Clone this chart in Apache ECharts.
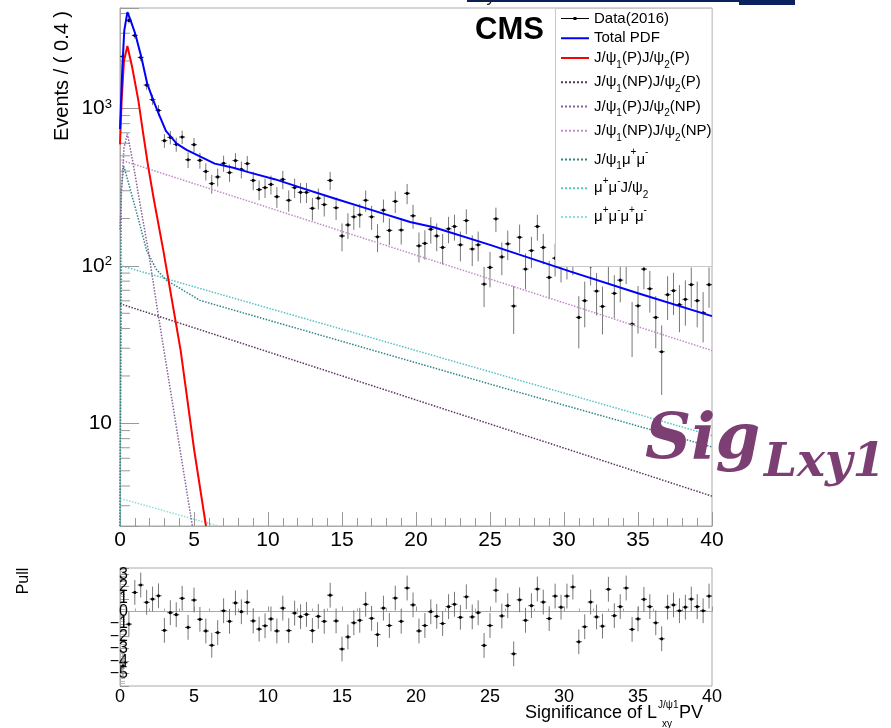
<!DOCTYPE html>
<html>
<head>
<meta charset="utf-8">
<title>Sig Lxy1 fit</title>
<script src="https://cdn.jsdelivr.net/npm/echarts@6/dist/echarts.min.js"></script>
<style>
  html, body { margin: 0; padding: 0; background: #fff; }
  #main { width: 891px; height: 728px; }
</style>
</head>
<body>
<div id="main"></div>
<script>
// histogram binning: Events / ( 0.4 )
var binWidth = 0.4;

// data counts per bin (0.2 ... 39.8)
var events = [
  2138, 3620, 2906, 2108, 1407, 1136, 971, 624, 655, 591,
  658, 472, 588, 468, 398, 333, 367, 448, 391, 466,
  410, 446, 349, 305, 314, 329, 275, 354, 261, 314,
  293, 293, 232, 269, 245, 349, 234, 155, 182, 205,
  211, 261, 205, 153, 226, 168, 257, 169, 289, 208,
  134, 139, 171, 155, 131, 172, 178, 136, 194, 128,
  136, 76.6, 97.8, 199, 114, 138, 55.6, 152, 95.4, 125,
  178, 131, 84.5, 112, 104, 108, 114, 47.1, 60.1, 100,
  69.2, 55.3, 103, 66.9, 81.2, 102, 42.7, 55.8, 95.4, 71.6,
  47.1, 28.5, 65.6, 69.6, 56.7, 61.3, 76.0, 60.1, 50.4, 76.0
];
// weighted events: error bars are wider than sqrt(N)
var errScale = 2.5;

// pull per bin
var pulls = [
  -4.38, -1.02, 1.53, 2.13, 0.74, 1.0, 1.26, -1.52, -0.10, -0.26,
  1.06, -1.28, 0.92, -0.63, -1.57, -2.72, -1.70, 0.06, -0.79, 0.69,
  -0.02, 0.74, -0.76, -1.42, -1.15, -0.60, -1.57, 0.27, -1.54, -0.13,
  -0.42, -0.24, -1.54, -0.39, -0.79, 1.31, -0.76, -3.02, -2.05, -0.91,
  -0.71, 0.58, -0.55, -1.86, 0.27, -1.13, 1.08, -0.79, 1.89, 0.53,
  -1.57, -1.13, -0.02, -0.39, -0.97, 0.39, 0.58, -0.47, 1.18, -0.44,
  -0.10, -2.73, -1.13, 1.71, -0.36, 0.47, -3.41, 0.94, -0.71, 0.47,
  1.81, 0.76, -0.57, 1.24, 0.35, 1.24, 1.97, -2.44, -1.23, 0.76,
  -0.44, -1.18, 1.79, -0.34, 0.39, 1.89, -1.44, -0.60, 0.98, 0.39,
  -0.91, -2.20, 0.35, 0.53, 0.06, 0.35, 1.0, 0.39, 0.06, 1.24
];

// fit components, [significance, events]
var totalPdf = [[0, 740], [0.16, 1830], [0.29, 3130], [0.5, 4080], [0.68, 3700], [1.03, 2980],
  [1.44, 2120], [1.84, 1435], [2.25, 1124], [2.66, 903], [3.1, 720], [3.83, 597], [4.5, 545],
  [5.5, 490], [6.4, 446], [7.66, 420], [8.67, 394], [10.5, 354], [12.2, 314], [14.5, 268],
  [16.7, 231], [19.6, 190], [21.2, 176], [25, 136], [30.4, 92.3], [35, 67], [40, 48]];
var ppComp = [[0, 591], [0.11, 1124], [0.27, 2017], [0.5, 2490], [0.82, 1832], [1.24, 1124],
  [1.57, 690], [1.91, 424], [2.3, 260], [2.93, 125], [4.1, 29], [5.02, 6.7], [5.81, 2.23]];
var npPComp = [[0, 57.5], [40, 3.45]];
var pNpComp = [[0, 170], [0.11, 310], [0.27, 560], [0.5, 690], [0.9, 440], [1.3, 265],
  [1.91, 125], [2.59, 48.5], [4.89, 2.23]];
var npNpComp = [[0, 472], [40, 29]];
var psiMuMuComp = [[0, 2.23], [0.08, 300], [0.25, 430], [0.34, 404], [1.24, 199], [1.8, 125],
  [2.45, 95], [3.15, 81], [5.4, 60.4], [25.7, 17.0], [40, 7.08]];
var muMuPsiComp = [[0, 2.23], [0.1, 100], [40, 8.36]];
var fourMuComp = [[0, 2.23], [0.05, 3.33], [6.64, 2.23]];

// tick values
var yMinorTicks = [3, 4, 5, 6, 7, 8, 9, 20, 30, 40, 50, 60, 70, 80, 90,
  200, 300, 400, 500, 600, 700, 800, 900, 2000, 3000, 4000];

var binCenters = events.map(function (_, i) { return +(binWidth * (i + 0.5)).toFixed(2); });

var FONT = "'Liberation Sans', Arial, sans-serif";

var legendLabels = {
  'Data(2016)': '{n|Data(2016)}',
  'Total PDF': '{n|Total PDF}',
  'J/ψ1(P)J/ψ2(P)': '{n|J/ψ}{sub|1}{n|(P)J/ψ}{sub|2}{n|(P)}',
  'J/ψ1(NP)J/ψ2(P)': '{n|J/ψ}{sub|1}{n|(NP)J/ψ}{sub|2}{n|(P)}',
  'J/ψ1(P)J/ψ2(NP)': '{n|J/ψ}{sub|1}{n|(P)J/ψ}{sub|2}{n|(NP)}',
  'J/ψ1(NP)J/ψ2(NP)': '{n|J/ψ}{sub|1}{n|(NP)J/ψ}{sub|2}{n|(NP)}',
  'J/ψ1μ+μ-': '{n|J/ψ}{sub|1}{n|μ}{sup|+}{n|μ}{sup|-}',
  'μ+μ-J/ψ2': '{n|μ}{sup|+}{n|μ}{sup|-}{n|J/ψ}{sub|2}',
  'μ+μ-μ+μ-': '{n|μ}{sup|+}{n|μ}{sup|-}{n|μ}{sup|+}{n|μ}{sup|-}'
};

function renderPoints(params, api) {
  var x = api.value(0), y = api.value(1), e = api.value(2);
  var c = api.coord([x, y]);
  var lo = api.coord([x, y - e]);
  var hi = api.coord([x, y + e]);
  var l = api.coord([x - binWidth / 2, y]);
  var r = api.coord([x + binWidth / 2, y]);
  return {
    type: 'group',
    children: [
      { type: 'line', shape: { x1: c[0], y1: lo[1], x2: c[0], y2: hi[1] }, style: { stroke: '#777', lineWidth: 1 } },
      { type: 'line', shape: { x1: l[0], y1: c[1], x2: r[0], y2: c[1] }, style: { stroke: '#333', lineWidth: 1 } },
      { type: 'circle', shape: { cx: c[0], cy: c[1], r: 1.6 }, style: { fill: '#000' } }
    ]
  };
}

function renderMinorTick(params, api) {
  var p = api.coord([0, api.value(1)]);
  return { type: 'line', shape: { x1: p[0], y1: p[1], x2: p[0] + 10, y2: p[1] }, style: { stroke: '#999', lineWidth: 1 } };
}

function curve(name, data, color, width, dotted) {
  return {
    name: name, type: 'line', xAxisIndex: 0, yAxisIndex: 0, data: data,
    symbol: 'none', showSymbol: false, animation: false, clip: true,
    lineStyle: { color: color, width: width, type: dotted ? 'dotted' : 'solid' },
    itemStyle: { color: color }
  };
}

var myChart = echarts.init(document.getElementById('main'));
var option = {
  animation: false,
  backgroundColor: '#fff',
  grid: [
    { left: 120, top: 8, width: 592, height: 518, show: true, borderColor: '#aaa', borderWidth: 1 },
    { left: 120, top: 568, width: 592, height: 118, show: true, borderColor: '#aaa', borderWidth: 1 }
  ],
  xAxis: [
    {
      gridIndex: 0, type: 'value', min: 0, max: 40, interval: 5,
      axisLine: { lineStyle: { color: '#aaa' } },
      axisTick: { inside: true, length: 14, lineStyle: { color: '#999' } },
      minorTick: { show: true, splitNumber: 5, length: 8, lineStyle: { color: '#999' } },
      splitLine: { show: false },
      axisLabel: { fontSize: 21, color: '#000', margin: 4, fontFamily: FONT }
    },
    {
      gridIndex: 1, type: 'value', min: 0, max: 40, interval: 5,
      axisLine: { lineStyle: { color: '#aaa' } },
      axisTick: { inside: true, length: 5, lineStyle: { color: '#999' } },
      minorTick: { show: true, splitNumber: 5, length: 3, lineStyle: { color: '#aaa' } },
      splitLine: { show: false },
      axisLabel: { fontSize: 18, color: '#000', margin: 2, fontFamily: FONT }
    }
  ],
  yAxis: [
    {
      gridIndex: 0, type: 'log', logBase: 10, min: 2.23, max: 4340,
      axisLine: { show: true, lineStyle: { color: '#aaa' } },
      axisTick: { inside: true, length: 19, lineStyle: { color: '#999' } },
      splitLine: { show: false },
      axisLabel: {
        fontSize: 21, color: '#000', margin: 8, fontFamily: FONT,
        formatter: function (v) {
          var k = Math.log(v) / Math.LN10;
          var r = Math.round(k);
          if (Math.abs(k - r) > 1e-6) return '';
          if (r === 1) return '10';
          return '10{sup|' + r + '}';
        },
        rich: { sup: { fontSize: 13, lineHeight: 13, verticalAlign: 'top', fontFamily: FONT, color: '#000' } }
      }
    },
    {
      gridIndex: 1, type: 'value', min: -6, max: 3.5, interval: 1,
      axisLine: { show: true, lineStyle: { color: '#aaa' } },
      axisTick: { inside: true, length: 9, lineStyle: { color: '#999' } },
      minorTick: { show: true, splitNumber: 5, length: 5, lineStyle: { color: '#bbb' } },
      splitLine: { show: false },
      axisLabel: {
        fontSize: 16, color: '#000', margin: -8, fontFamily: FONT,
        formatter: function (v) {
          var r = Math.round(v);
          if (Math.abs(v - r) > 1e-6 || r < -5 || r > 3) return '';
          return r < 0 ? '\u2212' + (-r) : String(r);
        }
      }
    }
  ],
  legend: {
    orient: 'vertical', left: 560, top: 11, padding: 0,
    itemWidth: 28, itemHeight: 14, itemGap: 4.75,
    selectedMode: false, z: 10,
    itemStyle: { opacity: 0 },
    textStyle: {
      fontFamily: FONT, fontSize: 15, color: '#000',
      rich: {
        n: { fontSize: 15, lineHeight: 24 },
        sub: { fontSize: 10, lineHeight: 10, verticalAlign: 'bottom' },
        sup: { fontSize: 10, lineHeight: 14, verticalAlign: 'top' }
      }
    },
    formatter: function (name) { return legendLabels[name] || name; },
    data: [
      { name: 'Data(2016)', icon: 'path://M0,0h0.01v0.01h-0.01z M27.99,13.99h0.01v0.01h-0.01z M0,6.5h28v1h-28z M12.5,5.5h3v3h-3z', itemStyle: { opacity: 1, color: '#000' } },
      'Total PDF', 'J/ψ1(P)J/ψ2(P)', 'J/ψ1(NP)J/ψ2(P)', 'J/ψ1(P)J/ψ2(NP)',
      'J/ψ1(NP)J/ψ2(NP)', 'J/ψ1μ+μ-', 'μ+μ-J/ψ2', 'μ+μ-μ+μ-'
    ]
  },
  series: [
    {
      name: 'Data(2016)', type: 'custom', xAxisIndex: 0, yAxisIndex: 0,
      renderItem: renderPoints, itemStyle: { color: '#000' },
      encode: { x: 0, y: 1 },
      data: events.map(function (v, i) { return [binCenters[i], v, errScale * Math.sqrt(v)]; })
    },
    curve('μ+μ-μ+μ-', fourMuComp, '#8fdcdc', 1.5, true),
    curve('μ+μ-J/ψ2', muMuPsiComp, '#56c2c6', 1.5, true),
    curve('J/ψ1μ+μ-', psiMuMuComp, '#2f8585', 1.5, true),
    curve('J/ψ1(NP)J/ψ2(NP)', npNpComp, '#c08cc8', 1.5, true),
    curve('J/ψ1(P)J/ψ2(NP)', pNpComp, '#86609a', 1.5, true),
    curve('J/ψ1(NP)J/ψ2(P)', npPComp, '#5a3560', 1.5, true),
    curve('J/ψ1(P)J/ψ2(P)', ppComp, '#ff0000', 2, false),
    curve('Total PDF', totalPdf, '#0000ff', 2, false),
    {
      type: 'custom', xAxisIndex: 0, yAxisIndex: 0, silent: true,
      renderItem: renderMinorTick, encode: { x: 0, y: 1 },
      data: yMinorTicks.map(function (v) { return [0, v]; })
    },
    {
      name: 'Pull', type: 'custom', xAxisIndex: 1, yAxisIndex: 1,
      renderItem: renderPoints, encode: { x: 0, y: 1 },
      data: pulls.map(function (v, i) { return [binCenters[i], v, 1]; })
    }
  ],
  graphic: [
    { type: 'rect', z: 3, shape: { x: 555.5, y: 8.5, width: 156.5, height: 258 }, style: { fill: '#fff', stroke: '#c8c8c8', lineWidth: 1 } },
    { type: 'rect', z: 5, shape: { x: 467, y: 0, width: 272, height: 2 }, style: { fill: '#0b1f5c' } },
    { type: 'rect', z: 5, shape: { x: 739, y: 0, width: 56, height: 5 }, style: { fill: '#0b2160' } },
    { type: 'text', z: 5, x: 478, y: 6, style: { text: 'xy', font: '17px ' + FONT, fill: '#222', textAlign: 'left', textVerticalAlign: 'bottom', align: 'left', verticalAlign: 'bottom' } },
    { type: 'text', z: 5, x: 475, y: 30, style: { text: 'CMS', font: 'bold 31px ' + FONT, fill: '#000', textAlign: 'left', textVerticalAlign: 'middle', align: 'left', verticalAlign: 'middle' } },
    { type: 'text', z: 5, x: 62, y: 76, rotation: Math.PI / 2, style: { text: 'Events / ( 0.4 )', font: '20px ' + FONT, fill: '#000', textAlign: 'center', textVerticalAlign: 'middle', align: 'center', verticalAlign: 'middle' } },
    { type: 'text', z: 5, x: 24, y: 581, rotation: Math.PI / 2, style: { text: 'Pull', font: '16px ' + FONT, fill: '#000', textAlign: 'center', textVerticalAlign: 'middle', align: 'center', verticalAlign: 'middle' } },
    { type: 'text', z: 5, x: 657, y: 713, style: { text: 'Significance of L', font: '18px ' + FONT, fill: '#000', textAlign: 'right', textVerticalAlign: 'middle', align: 'right', verticalAlign: 'middle' } },
    { type: 'text', z: 5, x: 658, y: 705, style: { text: 'J/ψ1', font: '10px ' + FONT, fill: '#000', textAlign: 'left', textVerticalAlign: 'middle', align: 'left', verticalAlign: 'middle' } },
    { type: 'text', z: 5, x: 662, y: 724, style: { text: 'xy', font: '10px ' + FONT, fill: '#000', textAlign: 'left', textVerticalAlign: 'middle', align: 'left', verticalAlign: 'middle' } },
    { type: 'text', z: 5, x: 679, y: 713, style: { text: 'PV', font: '18px ' + FONT, fill: '#000', textAlign: 'left', textVerticalAlign: 'middle', align: 'left', verticalAlign: 'middle' } },
    { type: 'text', z: 6, x: 645, y: 441, style: { text: 'Sig', font: 'italic bold 64px "DejaVu Serif", serif', fill: '#7b3f73', textAlign: 'left', textVerticalAlign: 'middle', align: 'left', verticalAlign: 'middle' } },
    { type: 'text', z: 6, x: 764, y: 464, style: { text: 'Lxy1', font: 'italic bold 47px "DejaVu Serif", serif', fill: '#7b3f73', textAlign: 'left', textVerticalAlign: 'middle', align: 'left', verticalAlign: 'middle' } }
  ]
};

myChart.setOption(option);
window.addEventListener('resize', function () {
  myChart.resize();
});
</script>
</body>
</html>
